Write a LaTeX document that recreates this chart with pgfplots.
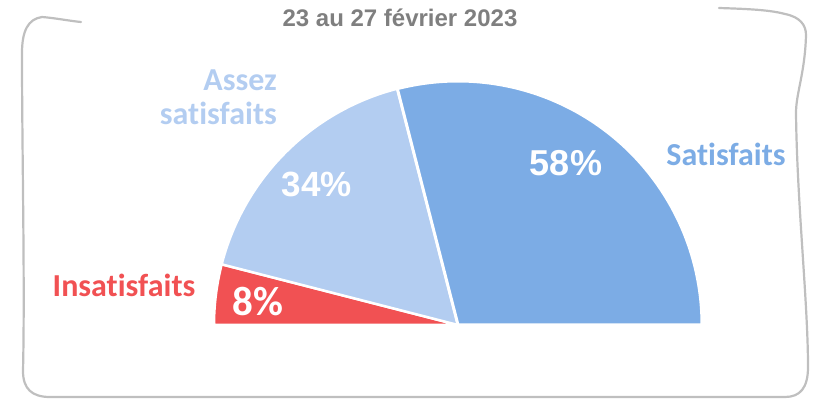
\documentclass[border=0pt]{standalone}
\usepackage{fontspec}
\setmainfont{Carlito}[Ligatures=NoCommon]
\newfontfamily\arialfont{Liberation Sans}
\usepackage{pgfplots}
\usepackage{pgfplotstable}
\pgfplotsset{compat=1.18}
\definecolor{cRed}{HTML}{F15153}
\definecolor{cLight}{HTML}{B3CDF1}
\definecolor{cBlue}{HTML}{7CACE5}
\definecolor{cGrey}{HTML}{7F7F7F}
\definecolor{cFrame}{HTML}{BFBFBF}

% share of answers, in percent
\pgfplotstableread{
cat pct
Insatisfaits 8
Assez 34
Satisfaits 58
}\piedata

\begin{document}
\begin{tikzpicture}
\pgfplotstablegetelem{0}{pct}\of\piedata\let\pA\pgfplotsretval
\pgfplotstablegetelem{1}{pct}\of\piedata\let\pB\pgfplotsretval
\pgfplotstablegetelem{2}{pct}\of\piedata\let\pC\pgfplotsretval
% half pie: 100% = 180 degrees
\pgfmathsetmacro\aO{180}%
\pgfmathsetmacro\aA{\aO-1.8*\pA}%
\pgfmathsetmacro\aB{\aA-1.8*\pB}%
\pgfmathsetmacro\aC{\aB-1.8*\pC}%
\useasboundingbox (0,0) rectangle (815bp,403bp);

% hand drawn frame
\draw[cFrame, line width=2.2bp, line cap=round]
  (719bp,395bp) .. controls (750bp,394bp) and (770bp,393bp) .. (785bp,389bp)
  .. controls (800bp,386bp) and (806bp,378bp) .. (806bp,368bp)
  .. controls (805bp,330bp) and (796bp,310bp) .. (796bp,290bp)
  .. controls (797bp,200bp) and (808bp,100bp) .. (808bp,36bp)
  .. controls (808bp,15bp) and (800bp,6bp) .. (785bp,6bp)
  -- (50bp,6bp)
  .. controls (32bp,6bp) and (23bp,14bp) .. (23bp,32bp)
  .. controls (25bp,120bp) and (22bp,250bp) .. (22bp,350bp)
  .. controls (22bp,372bp) and (28bp,384bp) .. (42bp,386bp)
  .. controls (55bp,385bp) and (70bp,382bp) .. (81bp,381bp);

\begin{axis}[
  at={(458bp,78bp)}, anchor=origin,
  x=244bp, y=244bp,
  xmin=-1.1, xmax=1.1, ymin=-0.1, ymax=1.1,
  hide axis, clip=false]
\addplot[fill=cRed, draw=white, line width=2.5bp] coordinates {(0,0)}
  -- ++(\aO:244bp) arc[start angle=\aO, end angle=\aA, radius=244bp] -- cycle;
\addplot[fill=cLight, draw=white, line width=2.5bp] coordinates {(0,0)}
  -- ++(\aA:244bp) arc[start angle=\aA, end angle=\aB, radius=244bp] -- cycle;
\addplot[fill=cBlue, draw=white, line width=3bp] coordinates {(0,0)}
  -- ++(\aB:244bp) arc[start angle=\aB, end angle=\aC, radius=244bp] -- cycle;
\end{axis}

% title (upper line is cut off in the reference)
\node[anchor=base, text=cGrey, inner sep=0] at (400bp,376bp)
  {\arialfont\bfseries\fontsize{24bp}{28bp}\selectfont 23 au 27 février 2023};

% category labels
\node[anchor=base, text=cRed, inner sep=0] at (124bp,106bp)
  {\bfseries\fontsize{32bp}{38bp}\selectfont Insatisfaits};
\node[anchor=base east, text=cLight, inner sep=0] at (277bp,312bp)
  {\bfseries\fontsize{32bp}{38bp}\selectfont Assez};
\node[anchor=base east, text=cLight, inner sep=0] at (277bp,278bp)
  {\bfseries\fontsize{32bp}{38bp}\selectfont satisfaits};
\node[anchor=base, text=cBlue, inner sep=0] at (726bp,237bp)
  {\bfseries\fontsize{32bp}{38bp}\selectfont Satisfaits};

% value labels
\node[anchor=base, text=white, inner sep=0] at (258bp,87bp)
  {\bfseries\fontsize{41bp}{48bp}\selectfont \pA\%};
\node[anchor=base, text=white, inner sep=0] at (317bp,206bp)
  {\arialfont\bfseries\fontsize{35bp}{42bp}\selectfont \pB\%};
\node[anchor=base, text=white, inner sep=0] at (566bp,227bp)
  {\arialfont\bfseries\fontsize{36bp}{42bp}\selectfont \pC\%};
\end{tikzpicture}
\end{document}
